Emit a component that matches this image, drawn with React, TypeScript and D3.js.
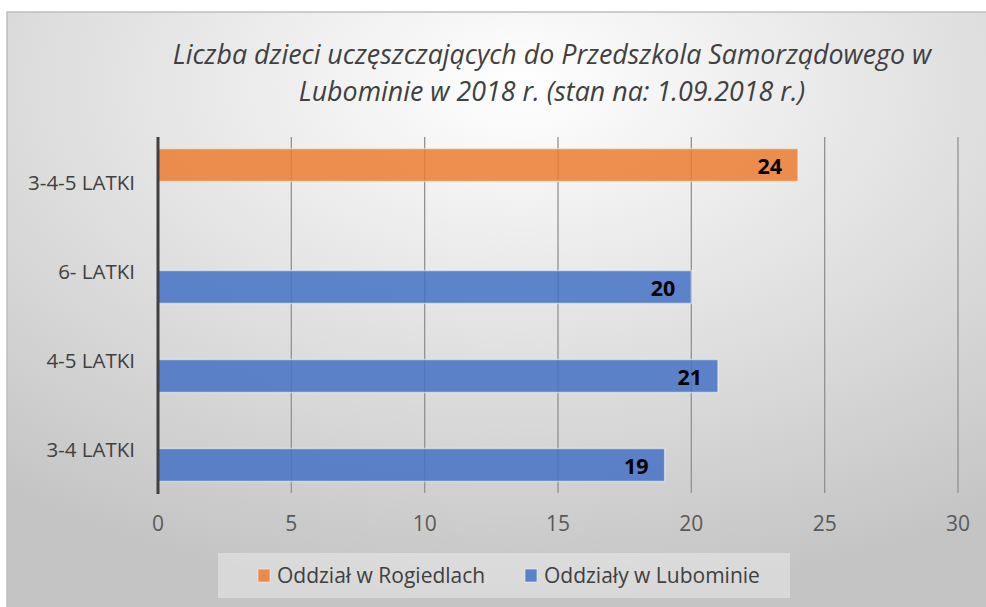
import React from 'react';
import * as d3 from 'd3';

const categories = ['3-4-5 LATKI', '6- LATKI', '4-5 LATKI', '3-4 LATKI'];
const seriesNames = ['Oddział w Rogiedlach', 'Oddziały w Lubominie'];
const rogiedle = [24, null, null, null];
const lubomin = [null, 20, 21, 19];
const xTicks = [0, 5, 10, 15, 20, 25, 30];
const titleLines = [
  'Liczba dzieci uczęszczających do Przedszkola Samorządowego w',
  'Lubominie w 2018 r. (stan na: 1.09.2018 r.)',
];

const colors = ['#ED7D31', '#4472C4'];
const font = '"Open Sans", sans-serif';

export default function App() {
  const W = 986;
  const H = 607;
  const margin = { top: 137, right: 28, bottom: 114, left: 158 };

  const x = d3.scaleLinear().domain([0, 30]).range([margin.left, W - margin.right]);
  const y = d3.scaleBand().domain(categories).range([margin.top, H - margin.bottom]);
  const inner = d3.scaleBand().domain(seriesNames).range([0, y.bandwidth()]).paddingOuter(0.35);

  const values = [rogiedle, lubomin];
  const bars: { cat: string; s: string; v: number; i: number }[] = [];
  values.forEach((arr, i) => {
    arr.forEach((v, j) => {
      if (v != null) bars.push({ cat: categories[j], s: seriesNames[i], v, i });
    });
  });

  return (
    <svg width={W} height={H} style={{ display: 'block', position: 'absolute', left: 0, top: 0 }}>
      <defs>
        <radialGradient id="bg" cx="52%" cy="12%" r="85%" fx="52%" fy="12%">
          <stop offset="0%" stopColor="#ffffff" />
          <stop offset="100%" stopColor="#c4c4c4" />
        </radialGradient>
      </defs>
      <rect x={0} y={0} width={W} height={H} fill="#ffffff" />
      <rect x={7} y={12} width={W} height={H} fill="url(#bg)" stroke="#bfbfbf" strokeWidth={1.5} />

      {titleLines.map((t, i) => (
        <text key={i} x={552} y={64 + i * 37} textAnchor="middle" fontFamily={font} fontStyle="italic"
          fontSize={26.8} fill="#404040">{t}</text>
      ))}

      {xTicks.map((t) => (
        <g key={t}>
          {t > 0 && (
            <line x1={x(t)} x2={x(t)} y1={margin.top} y2={H - margin.bottom} stroke="#919191" strokeWidth={1.3} />
          )}
          <text x={x(t)} y={531} textAnchor="middle" fontFamily={font} fontSize={21} fill="#595959">{t}</text>
        </g>
      ))}

      {bars.map((b) => {
        const by = (y(b.cat) as number) + (inner(b.s) as number);
        const bh = inner.bandwidth();
        return (
          <g key={b.cat + b.s}>
            <rect x={x(0)} y={by} width={x(b.v) - x(0)} height={bh} fill={colors[b.i]} fillOpacity={0.85}
              stroke="#f2f2f2" strokeOpacity={0.6} strokeWidth={1.5} />
            <text x={x(b.v) - 16} y={by + bh / 2 + 1} dy="0.35em" textAnchor="end" fontFamily={font}
              fontWeight="bold" fontSize={21.5} fill="#000">{b.v}</text>
          </g>
        );
      })}

      <line x1={x(0)} x2={x(0)} y1={margin.top} y2={H - margin.bottom + 1} stroke="#404040" strokeWidth={3} />

      {categories.map((c) => (
        <text key={c} x={135} y={(y(c) as number) + y.bandwidth() / 2 + 1} dy="0.35em" textAnchor="end"
          fontFamily={font} fontSize={20.5} fill="#404040">{c}</text>
      ))}

      <rect x={218} y={553} width={572} height={45} fill="#ffffff" fillOpacity={0.35} />
      {seriesNames.map((s, i) => {
        const lx = [258, 525][i];
        return (
          <g key={s}>
            <rect x={lx} y={569} width={12} height={13} fill={colors[i]} fillOpacity={0.85}
              stroke="#f2f2f2" strokeOpacity={0.6} strokeWidth={1} />
            <text x={lx + 19} y={583} fontFamily={font} fontSize={21} fill="#404040">{s}</text>
          </g>
        );
      })}
    </svg>
  );
}
